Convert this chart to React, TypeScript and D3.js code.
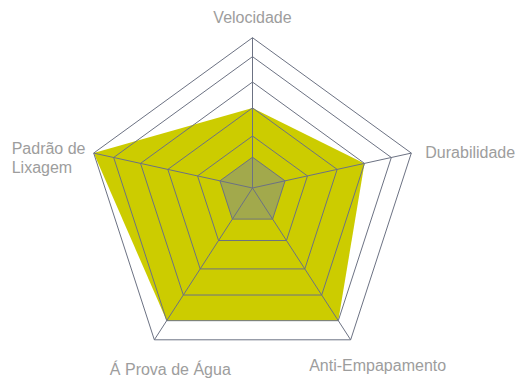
import { useEffect, useRef } from 'react';
import * as d3 from 'd3';

// axes, clockwise from the top
const axes = ['Velocidade', 'Durabilidade', 'Anti-Empapamento', 'Á Prova de Água', 'Padrão de Lixagem'];
// grid ring values (0-100 scale)
const ringLevels = [20.5, 34.6, 53.3, 70.5, 87.4, 100];
// series
const seriesMain = [53.3, 70.5, 87.4, 87.4, 100];
const seriesInner = [20.5, 20.5, 20.5, 20.5, 20.5];

const RadarChart = () => {
  const svgRef = useRef<SVGSVGElement>(null);

  useEffect(() => {
    const svg = d3.select(svgRef.current);
    svg.selectAll('*').remove();

    const width = 515;
    const height = 379;
    svg.attr('width', width).attr('height', height);

    // outer pentagon is regular, spokes meet a bit above its centre
    const outerCx = 252.5;
    const outerCy = 204.7;
    const outerR = 167;
    const apex = { x: 252.5, y: 188 };

    const r = d3.scaleLinear().domain([0, 100]).range([0, 1]);

    const angle = d3.scaleLinear().domain([0, axes.length]).range([0, 2 * Math.PI]);
    const outer = axes.map((_, i) => ({
      x: outerCx + outerR * Math.sin(angle(i)),
      y: outerCy - outerR * Math.cos(angle(i)),
    }));

    const pt = (i: number, v: number): [number, number] => {
      const f = r(v);
      return [apex.x + f * (outer[i].x - apex.x), apex.y + f * (outer[i].y - apex.y)];
    };

    const line = d3.line().curve(d3.curveLinearClosed);

    // series fills
    svg.append('path')
      .attr('d', line(seriesMain.map((v, i) => pt(i, v))))
      .attr('fill', '#cccc00');

    svg.append('path')
      .attr('d', line(seriesInner.map((v, i) => pt(i, v))))
      .attr('fill', '#a2a94c');

    // grid rings
    svg.append('g')
      .selectAll('path')
      .data(ringLevels)
      .enter().append('path')
      .attr('d', lv => line(axes.map((_, i) => pt(i, lv))))
      .attr('fill', 'none')
      .attr('stroke', '#6c7283')
      .attr('stroke-width', 1);

    // spokes
    svg.append('g')
      .selectAll('line')
      .data(axes)
      .enter().append('line')
      .attr('x1', apex.x)
      .attr('y1', apex.y)
      .attr('x2', (_, i) => pt(i, 100)[0])
      .attr('y2', (_, i) => pt(i, 100)[1])
      .attr('stroke', '#6c7283')
      .attr('stroke-width', 1);

    // labels
    const labelPos = [
      { dx: 0, dy: -15, anchor: 'middle' },
      { dx: 14, dy: 5, anchor: 'start' },
      { dx: 27, dy: 31, anchor: 'middle' },
      { dx: 16, dy: 35, anchor: 'middle' },
      { dx: -82, dy: 1, anchor: 'start' },
    ];

    const labels = svg.append('g')
      .style('font-family', "'Liberation Sans', Arial, sans-serif")
      .attr('font-size', 16)
      .attr('fill', '#9d9d9d');

    axes.forEach((name, i) => {
      const [x, y] = pt(i, 100);
      const p = labelPos[i];
      const t = labels.append('text')
        .attr('x', x + p.dx)
        .attr('y', y + p.dy)
        .attr('text-anchor', p.anchor);
      if (name === 'Padrão de Lixagem') {
        t.append('tspan').attr('x', x + p.dx).text('Padrão de');
        t.append('tspan').attr('x', x + p.dx).attr('dy', 19).text('Lixagem');
      } else {
        t.text(name);
      }
    });
  }, []);

  return <svg ref={svgRef} style={{ position: 'absolute', left: 0, top: 0 }}></svg>;
};

export default function App() {
  return <RadarChart />;
}
